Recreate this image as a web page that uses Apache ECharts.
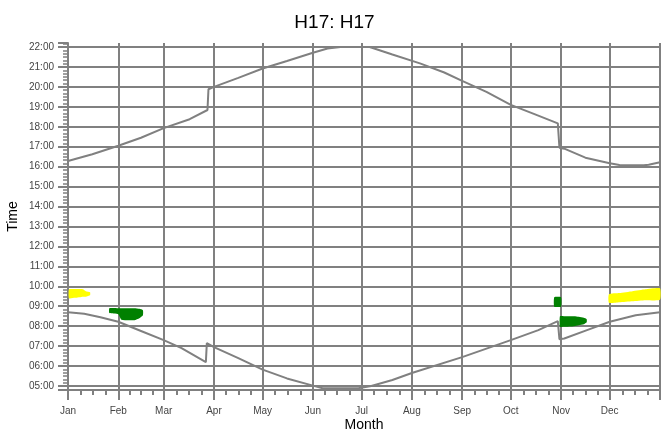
<!DOCTYPE html>
<html>
<head>
<meta charset="utf-8">
<script src="https://cdn.jsdelivr.net/npm/echarts@6/dist/echarts.min.js"></script>
<style>html,body{margin:0;padding:0;background:#fff;}#c{width:669px;height:432px;}</style>
</head>
<body>
<div id="c"></div>
<script>
// Month tick labels
var monthLabels = ['Jan','Feb','Mar','Apr','May','Jun','Jul','Aug','Sep','Oct','Nov','Dec'];

// Sunset curve (day of year, hour)
var sunsetDays  = [0, 15, 31, 45, 59, 75, 86, 86.6, 90, 105, 120, 135, 151, 160, 168, 186, 200, 217, 232, 243, 258, 273, 288, 302, 303, 306, 319, 334, 340, 355, 358, 365];
var sunsetHours = [16.28, 16.62, 17.05, 17.45, 17.93, 18.38, 18.84, 19.88, 20.0, 20.45, 20.92, 21.3, 21.71, 21.92, 22.0, 22.0, 21.62, 21.18, 20.72, 20.3, 19.75, 19.1, 18.62, 18.17, 16.95, 16.9, 16.45, 16.17, 16.08, 16.07, 16.1, 16.22];

// Sunrise curve (day of year, hour)
var sunriseDays  = [0, 10, 20, 31, 45, 59, 70, 85, 85.6, 90, 105, 120, 135, 151, 157, 179, 187, 200, 212, 243, 273, 290, 302, 303, 306, 320, 334, 350, 365];
var sunriseHours = [8.70, 8.62, 8.45, 8.22, 7.76, 7.30, 6.90, 6.20, 7.15, 6.95, 6.40, 5.82, 5.38, 5.02, 4.89, 4.89, 5.0, 5.3, 5.65, 6.45, 7.30, 7.80, 8.25, 7.35, 7.38, 7.80, 8.22, 8.55, 8.70];

// Yellow patches (outline: days, upper hour, lower hour)
var yellowJanDays = [0.6, 4.3, 9.2, 11, 13.6];
var yellowJanHigh = [9.85, 9.86, 9.85, 9.75, 9.70];
var yellowJanLow  = [9.40, 9.42, 9.48, 9.48, 9.55];
var yellowDecDays = [333.5, 340, 348, 356, 365];
var yellowDecHigh = [9.60, 9.66, 9.75, 9.85, 9.90];
var yellowDecLow  = [9.17, 9.20, 9.25, 9.30, 9.32];

// Green patches (outline: days, upper hour, lower hour)
var greenFebDays = [25.5, 31, 33, 41, 44, 46.2];
var greenFebHigh = [8.90, 8.90, 8.90, 8.90, 8.87, 8.80];
var greenFebLow  = [8.66, 8.60, 8.32, 8.30, 8.40, 8.55];
var greenOctDays = [299.8, 304];
var greenOctHigh = [9.45, 9.45];
var greenOctLow  = [8.98, 8.98];
var greenNovDays = [303.3, 306, 312, 315, 318, 319.8];
var greenNovHigh = [8.50, 8.50, 8.50, 8.47, 8.42, 8.35];
var greenNovLow  = [7.97, 7.97, 8.00, 8.05, 8.10, 8.20];

var base = new Date(2017, 0, 1).getTime();
var DAY = 86400000;
function t(d) { return base + d * DAY; }

function pairs(days, hours) {
  return days.map(function (d, i) { return [t(d), hours[i]]; });
}
function blob(days, hi, lo) {
  return { days: days, hi: hi, lo: lo };
}
var yellowBlobs = [blob(yellowJanDays, yellowJanHigh, yellowJanLow), blob(yellowDecDays, yellowDecHigh, yellowDecLow)];
var greenBlobs = [blob(greenFebDays, greenFebHigh, greenFebLow), blob(greenOctDays, greenOctHigh, greenOctLow), blob(greenNovDays, greenNovHigh, greenNovLow)];

function makeRender(list) {
  return function (params, api) {
    var b = list[params.dataIndex];
    var pts = [];
    for (var i = 0; i < b.days.length; i++) pts.push(api.coord([t(b.days[i]), b.hi[i]]));
    for (var j = b.days.length - 1; j >= 0; j--) pts.push(api.coord([t(b.days[j]), b.lo[j]]));
    return {
      type: 'polygon',
      shape: { points: pts, smooth: 0.15 },
      style: { fill: api.visual('color') }
    };
  };
}
function blobData(list) {
  return list.map(function (b) { return [t(b.days[0]), b.lo[0], t(b.days[b.days.length - 1]), b.hi[0]]; });
}
function pad(n) { return (n < 10 ? '0' : '') + n; }

var font = 'Liberation Sans, Arial, sans-serif';
var chart = echarts.init(document.getElementById('c'), null, { renderer: 'canvas' });
chart.setOption({
  animation: false,
  backgroundColor: '#fff',
  title: {
    text: 'H17: H17',
    left: 'center',
    top: 8,
    textStyle: { fontFamily: font, fontSize: 19, fontWeight: 'normal', color: '#000' }
  },
  grid: { left: 68, right: 9, top: 43, bottom: 42, containLabel: false, outerBoundsMode: 'none' },
  xAxis: {
    type: 'time',
    min: t(0),
    max: t(365),
    splitNumber: 12,
    name: 'Month',
    nameLocation: 'middle',
    nameGap: 28,
    nameMoveOverlap: false,
    nameTextStyle: { fontFamily: font, fontSize: 14, color: '#000' },
    axisLine: { lineStyle: { color: '#808080', width: 2 } },
    axisTick: { show: true, length: 10, lineStyle: { color: '#808080', width: 2 } },
    minorTick: { show: true, splitNumber: 4, length: 5, lineStyle: { color: '#808080', width: 2 } },
    axisLabel: {
      margin: 16,
      fontFamily: font,
      fontSize: 10,
      color: '#444',
      hideOverlap: false,
      formatter: function (v) { return monthLabels[new Date(v).getMonth()]; }
    },
    splitLine: { show: true, showMinLine: true, showMaxLine: true, lineStyle: { color: '#808080', width: 2 } }
  },
  yAxis: {
    type: 'value',
    min: 4.8,
    max: 22.2,
    splitNumber: 17,
    name: 'Time',
    nameLocation: 'middle',
    nameGap: 48,
    nameMoveOverlap: false,
    nameTextStyle: { fontFamily: font, fontSize: 14, color: '#000' },
    axisLine: { show: true, lineStyle: { color: '#808080', width: 2 } },
    axisTick: { show: true, length: 10, lineStyle: { color: '#808080', width: 2 } },
    minorTick: { show: true, splitNumber: 6, length: 5, lineStyle: { color: '#808080', width: 1.5 } },
    axisLabel: {
      margin: 14,
      showMinLabel: false,
      showMaxLabel: false,
      fontFamily: font,
      fontSize: 10,
      color: '#444',
      formatter: function (v) { return pad(Math.round(v)) + ':00'; }
    },
    splitLine: { show: true, showMinLine: false, showMaxLine: false, lineStyle: { color: '#808080', width: 2 } }
  },
  series: [
    {
      type: 'line', name: 'sunset', data: pairs(sunsetDays, sunsetHours), showSymbol: false,
      lineStyle: { color: '#808080', width: 2 }, z: 3
    },
    {
      type: 'line', name: 'sunrise', data: pairs(sunriseDays, sunriseHours), showSymbol: false,
      lineStyle: { color: '#808080', width: 2 }, z: 3
    },
    {
      type: 'custom', name: 'yellow', renderItem: makeRender(yellowBlobs), data: blobData(yellowBlobs),
      itemStyle: { color: '#ffff00' }, encode: { x: [0, 2], y: [1, 3] }, z: 4
    },
    {
      type: 'custom', name: 'green', renderItem: makeRender(greenBlobs), data: blobData(greenBlobs),
      itemStyle: { color: '#008000' }, encode: { x: [0, 2], y: [1, 3] }, z: 4
    }
  ]
});
</script>
</body>
</html>
